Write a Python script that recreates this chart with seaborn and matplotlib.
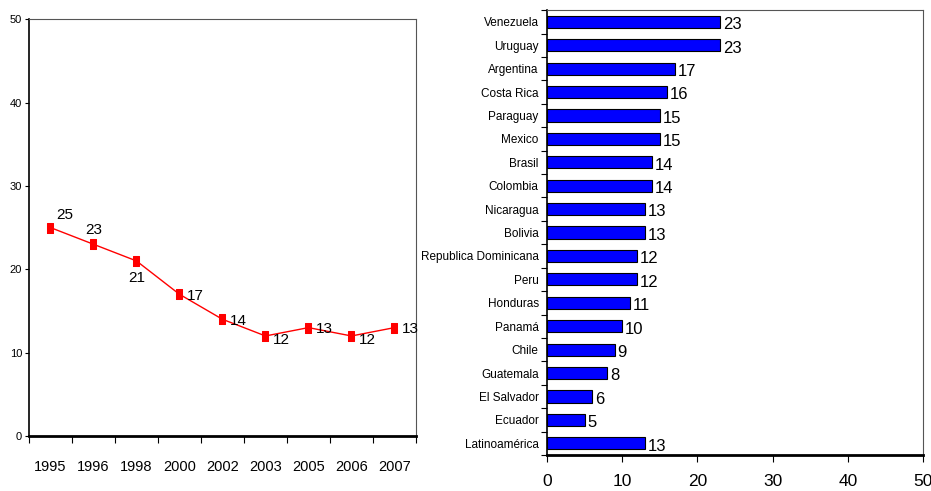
import pandas as pd
import seaborn as sns
import matplotlib
matplotlib.use("Agg")
import matplotlib.pyplot as plt
from matplotlib.ticker import FixedLocator

# Datos
anos = ['1995', '1996', '1998', '2000', '2002', '2003', '2005', '2006', '2007']
valores_anos = [25, 23, 21, 17, 14, 12, 13, 12, 13]

paises = ['Venezuela', 'Uruguay', 'Argentina', 'Costa Rica', 'Paraguay', 'Mexico',
          'Brasil', 'Colombia', 'Nicaragua', 'Bolivia', 'Republica Dominicana', 'Peru',
          'Honduras', 'Panamá', 'Chile', 'Guatemala', 'El Salvador', 'Ecuador',
          'Latinoamérica']
valores_paises = [23, 23, 17, 16, 15, 15, 14, 14, 13, 13, 12, 12, 11, 10, 9, 8, 6, 5, 13]

sns.set_style("white")
plt.rcParams['font.family'] = ['Liberation Sans', 'DejaVu Sans']
plt.rcParams['text.color'] = 'black'
plt.rcParams['xtick.color'] = 'black'
plt.rcParams['ytick.color'] = 'black'

fig = plt.figure(figsize=(9.31, 4.91), dpi=100)
ax1 = fig.add_axes([0.0311, 0.112, 0.4157, 0.849])
ax2 = fig.add_axes([0.5875, 0.0733, 0.404, 0.906])

# Grafico de lineas
df_anos = pd.DataFrame({'ano': anos, 'valor': valores_anos})
sns.pointplot(data=df_anos, x='ano', y='valor', color='red', markers='s',
              markersize=5, linewidth=1, ax=ax1)
# marcador rectangular vertical
for line in ax1.lines:
    line.set_marker([(-0.6, -1), (0.6, -1), (0.6, 1), (-0.6, 1), (-0.6, -1)])
    line.set_markersize(7)
ax1.set_ylim(0, 50)
ax1.set_xlim(-0.5, len(anos) - 0.5)
ax1.set_yticks([0, 10, 20, 30, 40, 50])
ax1.tick_params(axis='y', labelsize=8, length=3, width=0.8, pad=2, left=True)
ax1.tick_params(axis='x', which='major', length=0, labelsize=10.5, pad=17)
ax1.xaxis.set_minor_locator(FixedLocator([i - 0.5 for i in range(len(anos) + 1)]))
ax1.tick_params(axis='x', which='minor', bottom=True, length=5, width=0.8, direction='out')
ax1.set_xlabel('')
ax1.set_ylabel('')

offsets = [(4, 9), (0, 10), (0, -12), (5, -1), (5, -1), (5, -3), (5, -1), (5, -3), (5, -1)]
for i, (v, off) in enumerate(zip(valores_anos, offsets)):
    ax1.annotate(str(v), (i, v), xytext=off, textcoords='offset points',
                 fontsize=11, ha='left' if off[0] > 0 else 'center', va='center')

for s in ['left', 'bottom']:
    ax1.spines[s].set_color('black')
ax1.spines['left'].set_linewidth(1.2)
ax1.spines['bottom'].set_linewidth(2)
for s in ['top', 'right']:
    ax1.spines[s].set_color('#555555')
    ax1.spines[s].set_linewidth(0.8)

# Grafico de barras
df_paises = pd.DataFrame({'pais': paises, 'valor': valores_paises})
sns.barplot(data=df_paises, y='pais', x='valor', orient='h', color='#0000FF',
            saturation=1, edgecolor='black', linewidth=0.8, width=0.52, ax=ax2)
ax2.set_xlim(0, 50)
ax2.set_ylim(len(paises) - 0.5, -0.5)
ax2.set_xticks([0, 10, 20, 30, 40, 50])
ax2.tick_params(axis='x', labelsize=12.5, length=5, width=0.8, pad=9, bottom=True)
ax2.tick_params(axis='y', which='major', length=0, labelsize=8.5, pad=6)
ax2.yaxis.set_minor_locator(FixedLocator([i - 0.5 for i in range(len(paises) + 1)]))
ax2.tick_params(axis='y', which='minor', left=True, length=4, width=0.8, direction='out')
ax2.set_xlabel('')
ax2.set_ylabel('')

for i, v in enumerate(valores_paises):
    ax2.annotate(str(v), (v, i), xytext=(2, -2), textcoords='offset points',
                 fontsize=12, ha='left', va='center')

for s in ['left', 'bottom']:
    ax2.spines[s].set_color('black')
ax2.spines['left'].set_linewidth(1.2)
ax2.spines['bottom'].set_linewidth(2)
for s in ['top', 'right']:
    ax2.spines[s].set_color('#555555')
    ax2.spines[s].set_linewidth(0.8)

fig.savefig('out.png', dpi=100)
